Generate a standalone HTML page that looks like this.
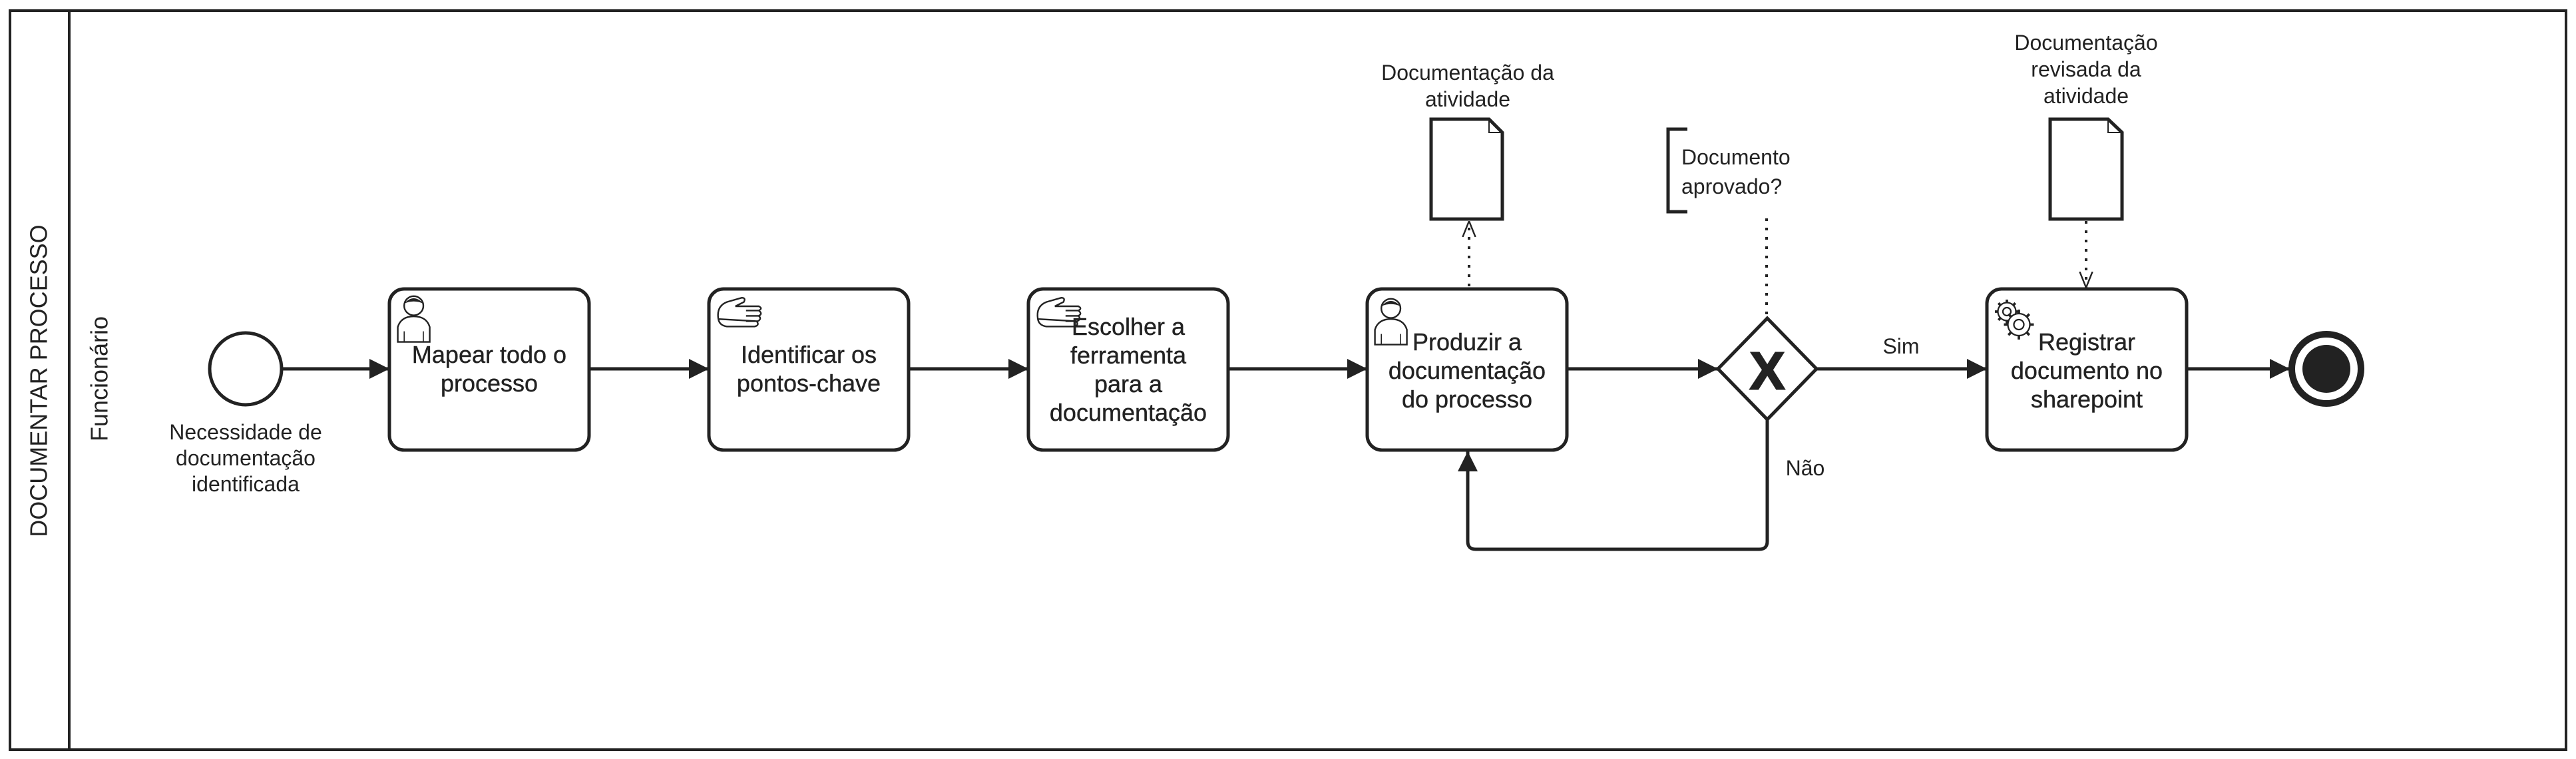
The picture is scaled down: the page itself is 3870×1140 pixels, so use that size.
<!DOCTYPE html>
<html><head><meta charset="utf-8"><style>
html,body{margin:0;padding:0;background:#fff;}
svg{display:block;}
text{font-family:"Liberation Sans",Arial,sans-serif;fill:#222;}
</style></head><body>
<svg width="3870" height="1140" viewBox="0 0 3870 1140" xmlns="http://www.w3.org/2000/svg">
<defs>
<marker id="ah" viewBox="0 0 10 10" refX="10" refY="5" markerWidth="6" markerHeight="7" markerUnits="strokeWidth" orient="auto"><path d="M0,0 L10,5 L0,10 z" fill="#222"/></marker>
<marker id="oa" viewBox="0 0 10 10" refX="10" refY="5" markerWidth="6" markerHeight="6" markerUnits="strokeWidth" orient="auto"><path d="M0,1 L10,5 L0,9" fill="none" stroke="#222" stroke-width="1"/></marker>
<g id="user"><circle cx="16" cy="12" r="9" fill="#fff" stroke="#222" stroke-width="1.5"/><path d="M7,10 Q16,0 25,10 Q16,6 7,10z" fill="#222"/><path d="M1,46 L1,32 Q4,22 16,22 Q28,22 31,32 L31,46 z" fill="#fff" stroke="#222" stroke-width="1.5"/><line x1="7" y1="36" x2="7" y2="46" stroke="#222" stroke-width="1"/><line x1="25" y1="36" x2="25" y2="46" stroke="#222" stroke-width="1"/></g>
<g id="hand" fill="none" stroke="#222" stroke-width="1.5"><path d="M2,22 Q0,10 10,6 L24,2 Q28,2 26,6 L18,10 L40,10 Q44,12 40,14 L28,14 M40,14 Q44,17 40,19 L28,19 M40,19 Q43,22 39,24 L28,24 M38,24 Q41,28 36,29 L10,29 Q3,28 2,22z"/></g>
</defs>
<!-- pool -->
<rect x="15" y="16" width="3840" height="1110" fill="none" stroke="#222" stroke-width="4"/>
<line x1="104" y1="16" x2="104" y2="1126" stroke="#222" stroke-width="4"/>
<text transform="translate(58,572) rotate(-90)" font-size="36" text-anchor="middle" dominant-baseline="central">DOCUMENTAR PROCESSO</text>
<text transform="translate(149,569) rotate(-90)" font-size="36" text-anchor="middle" dominant-baseline="central">Funcionário</text>

<!-- start -->
<circle cx="369" cy="554" r="54" fill="#fff" stroke="#222" stroke-width="5"/>
<text font-size="32" text-anchor="middle" dominant-baseline="central"><tspan x="369" y="649">Necessidade de</tspan><tspan x="369" y="688">documentação</tspan><tspan x="369" y="727">identificada</tspan></text>

<!-- flows -->
<g stroke="#222" stroke-width="5" fill="none" marker-end="url(#ah)">
<line x1="424" y1="554" x2="585" y2="554"/>
<line x1="886" y1="554" x2="1065" y2="554"/>
<line x1="1365" y1="554" x2="1545" y2="554"/>
<line x1="1845" y1="554" x2="2054" y2="554"/>
<line x1="2354" y1="554" x2="2581" y2="554"/>
<line x1="2729" y1="554" x2="2985" y2="554"/>
<line x1="3285" y1="554" x2="3440" y2="554"/>
<path d="M2655,630 L2655,813 Q2655,825 2643,825 L2217,825 Q2205,825 2205,813 L2205,678"/>
</g>
<text x="2856" y="520" font-size="32" text-anchor="middle" dominant-baseline="central">Sim</text>
<text x="2712" y="703" font-size="32" text-anchor="middle" dominant-baseline="central">Não</text>

<!-- tasks -->
<g fill="#fff" stroke="#222" stroke-width="5">
<rect x="585" y="434" width="300" height="242" rx="22"/>
<rect x="1065" y="434" width="300" height="242" rx="22"/>
<rect x="1545" y="434" width="300" height="242" rx="22"/>
<rect x="2054" y="434" width="300" height="242" rx="22"/>
<rect x="2985" y="434" width="300" height="242" rx="22"/>
</g>
<use href="#user" transform="translate(596,440) scale(1.6)"/>
<use href="#hand" transform="translate(1076,444) scale(1.6)"/>
<use href="#hand" transform="translate(1556,444) scale(1.6)"/>
<use href="#user" transform="translate(2064,444) scale(1.6)"/>
<g transform="translate(3024,480) scale(1.5)" fill="none" stroke="#222" stroke-width="1.5">
<circle cx="-6" cy="-8" r="9" fill="#fff"/><circle cx="-6" cy="-8" r="4"/>
<g stroke-width="2.5"><path d="M-6,-20 L-6,-17 M-6,1 L-6,4 M-18,-8 L-15,-8 M3,-8 L6,-8 M-14.5,-16.5 L-12.5,-14.5 M0.5,-1.5 L2.5,0.5 M-14.5,0.5 L-12.5,-1.5 M0.5,-14.5 L2.5,-16.5"/></g>
<circle cx="6" cy="5" r="11" fill="#fff"/><circle cx="6" cy="5" r="5"/>
<g stroke-width="2.5"><path d="M6,-10 L6,-6 M6,16 L6,20 M-9,5 L-5,5 M17,5 L21,5 M-4.5,-5.5 L-2,-3 M14,13 L16.5,15.5 M-4.5,15.5 L-2,13 M14,-3 L16.5,-5.5"/></g>
</g>
<g font-size="36" text-anchor="middle" dominant-baseline="central" stroke="#222" stroke-width="0.4">
<text><tspan x="735" y="532">Mapear todo o</tspan><tspan x="735" y="575">processo</tspan></text>
<text><tspan x="1215" y="532">Identificar os</tspan><tspan x="1215" y="575">pontos-chave</tspan></text>
<text><tspan x="1695" y="490">Escolher a</tspan><tspan x="1695" y="533">ferramenta</tspan><tspan x="1695" y="576">para a</tspan><tspan x="1695" y="619">documentação</tspan></text>
<text><tspan x="2204" y="513">Produzir a</tspan><tspan x="2204" y="556">documentação</tspan><tspan x="2204" y="599">do processo</tspan></text>
<text><tspan x="3135" y="513">Registrar</tspan><tspan x="3135" y="556">documento no</tspan><tspan x="3135" y="599">sharepoint</tspan></text>
</g>

<!-- gateway -->
<polygon points="2655,478 2729,554 2655,630 2581,554" fill="#fff" stroke="#222" stroke-width="5"/>
<text x="2655" y="557" font-size="80" font-weight="bold" text-anchor="middle" dominant-baseline="central" stroke="#222" stroke-width="2">X</text>

<!-- end -->
<circle cx="3495" cy="554" r="52" fill="#fff" stroke="#222" stroke-width="10"/>
<circle cx="3495" cy="554" r="36" fill="#222"/>

<!-- data objects -->
<g fill="#fff" stroke="#222" stroke-width="5">
<path d="M2150,179 L2237,179 L2257,199 L2257,329 L2150,329 z"/>
<path d="M3080,179 L3167,179 L3188,199 L3188,329 L3080,329 z"/>
</g>
<g fill="none" stroke="#222" stroke-width="2"><path d="M2237,179 L2237,199 L2257,199"/><path d="M3167,179 L3167,199 L3188,199"/></g>
<text font-size="32" text-anchor="middle" dominant-baseline="central"><tspan x="2205" y="109">Documentação da</tspan><tspan x="2205" y="149">atividade</tspan></text>
<text font-size="32" text-anchor="middle" dominant-baseline="central"><tspan x="3134" y="64">Documentação</tspan><tspan x="3134" y="104">revisada da</tspan><tspan x="3134" y="144">atividade</tspan></text>
<g stroke="#222" stroke-width="4" fill="none" stroke-dasharray="4,10">
<line x1="2207" y1="430" x2="2207" y2="332" marker-end="url(#oa)"/>
<line x1="3134" y1="332" x2="3134" y2="432" marker-end="url(#oa)"/>
<line x1="2654" y1="328" x2="2654" y2="472"/>
</g>

<!-- annotation -->
<path d="M2535,194 L2506,194 L2506,318 L2535,318" fill="none" stroke="#222" stroke-width="5"/>
<text font-size="32" dominant-baseline="central"><tspan x="2526" y="236">Documento</tspan><tspan x="2526" y="280">aprovado?</tspan></text>
</svg>
</body></html>
